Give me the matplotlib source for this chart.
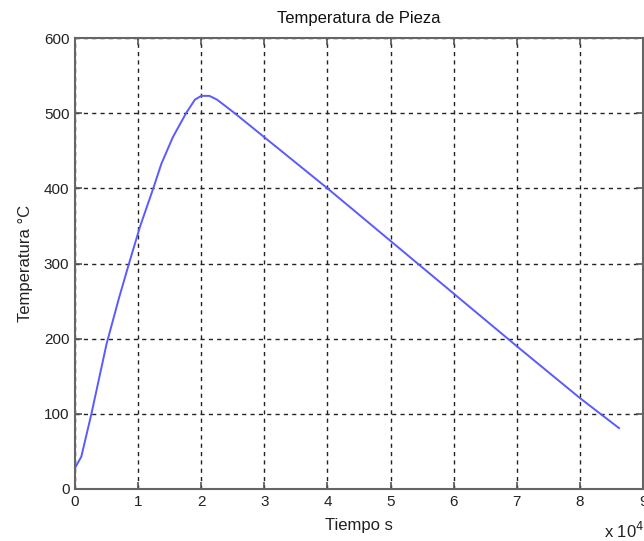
import matplotlib
matplotlib.use("Agg")
import matplotlib.pyplot as plt

# Piece temperature over time (time in seconds, temperature in °C)
tiempo_s = [0, 1000, 2600, 5000, 7000, 8700, 10300, 12400, 13700, 15500,
            17600, 19000, 20000, 21300, 22500, 25300, 30000, 40000, 50000,
            60000, 70000, 80000, 86200]
temperatura_c = [28, 43, 100, 193, 255, 304, 349, 400, 433, 468,
                 500, 518, 523, 523, 518, 500, 468, 400, 330,
                 260, 190, 121, 81]

x_ticks = [0, 10000, 20000, 30000, 40000, 50000, 60000, 70000, 80000, 90000]
x_tick_labels = ["0", "1", "2", "3", "4", "5", "6", "7", "8", "9"]
y_ticks = [0, 100, 200, 300, 400, 500, 600]

plt.rcParams["font.family"] = ["Liberation Sans", "DejaVu Sans"]

fig = plt.figure(figsize=(6.44, 5.41), dpi=100)
ax = fig.add_axes([75 / 644, 52 / 541, 568 / 644, 451 / 541])

ax.plot(tiempo_s, temperatura_c, color="#5a5aff", linewidth=1.4)

ax.set_xlim(0, 90000)
ax.set_ylim(0, 600)
ax.set_xticks(x_ticks)
ax.set_xticklabels(x_tick_labels)
ax.set_yticks(y_ticks)

ax.grid(True, color="#222222", linestyle=(0, (3, 3)), linewidth=1.0)
ax.set_axisbelow(True)

for s in ax.spines.values():
    s.set_color("#666666")
    s.set_linewidth(1.5)

ax.tick_params(direction="in", length=5, width=1.2, color="#555555",
               labelsize=11, labelcolor="#222222", top=True, right=True,
               pad=4)

ax.set_title("Temperatura de Pieza", fontsize=12, color="#111111", pad=11)
ax.set_xlabel("Tiempo s", fontsize=12, color="#222222", labelpad=7)
ax.set_ylabel("Temperatura °C", fontsize=12, color="#222222", labelpad=8)

fig.text(604 / 644, 3 / 541, r"x 10$^{4}$", fontsize=12, color="#222222",
         ha="left", va="baseline")

fig.savefig("out.png", dpi=100, facecolor="white")
